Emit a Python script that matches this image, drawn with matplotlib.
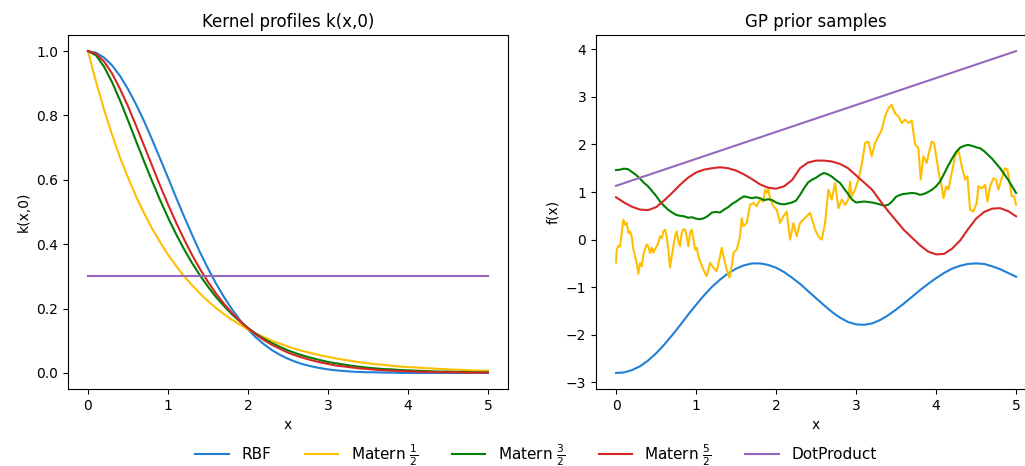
import numpy as np
import matplotlib
matplotlib.use("Agg")
import matplotlib.pyplot as plt

# kernel profiles k(x, 0) sampled on x = 0, 0.1, ..., 5
kernel_x = np.linspace(0, 5, 51)
rbf_k = [1.000, 0.995, 0.980, 0.956, 0.923, 0.882, 0.835, 0.783, 0.726, 0.667,
         0.607, 0.546, 0.487, 0.430, 0.375, 0.325, 0.278, 0.236, 0.198, 0.164,
         0.135, 0.110, 0.089, 0.071, 0.056, 0.044, 0.034, 0.026, 0.020, 0.015,
         0.011, 0.008, 0.006, 0.004, 0.003, 0.002, 0.002, 0.001, 0.001, 0.000,
         0.000, 0.000, 0.000, 0.000, 0.000, 0.000, 0.000, 0.000, 0.000, 0.000,
         0.000]
matern12_k = [1.000, 0.905, 0.819, 0.741, 0.670, 0.607, 0.549, 0.497, 0.449, 0.407,
              0.368, 0.333, 0.301, 0.273, 0.247, 0.223, 0.202, 0.183, 0.165, 0.150,
              0.135, 0.122, 0.111, 0.100, 0.091, 0.082, 0.074, 0.067, 0.061, 0.055,
              0.050, 0.045, 0.041, 0.037, 0.033, 0.030, 0.027, 0.025, 0.022, 0.020,
              0.018, 0.017, 0.015, 0.014, 0.012, 0.011, 0.010, 0.009, 0.008, 0.007,
              0.007]
matern32_k = [1.000, 0.987, 0.952, 0.904, 0.847, 0.785, 0.721, 0.658, 0.597, 0.538,
              0.483, 0.432, 0.385, 0.342, 0.303, 0.268, 0.236, 0.208, 0.182, 0.160,
              0.140, 0.122, 0.106, 0.093, 0.081, 0.070, 0.061, 0.053, 0.046, 0.040,
              0.034, 0.030, 0.026, 0.022, 0.019, 0.016, 0.014, 0.012, 0.011, 0.009,
              0.008, 0.007, 0.006, 0.005, 0.004, 0.004, 0.003, 0.003, 0.002, 0.002,
              0.002]
matern52_k = [1.000, 0.992, 0.968, 0.931, 0.883, 0.829, 0.769, 0.707, 0.645, 0.583,
              0.524, 0.468, 0.416, 0.367, 0.323, 0.283, 0.247, 0.215, 0.186, 0.161,
              0.139, 0.119, 0.102, 0.087, 0.075, 0.063, 0.054, 0.046, 0.039, 0.033,
              0.028, 0.023, 0.020, 0.017, 0.014, 0.012, 0.010, 0.008, 0.007, 0.006,
              0.005, 0.004, 0.003, 0.003, 0.002, 0.002, 0.002, 0.001, 0.001, 0.001,
              0.001]
dot_x = [0.0, 5.0]
dot_k = [0.3, 0.3]

# prior samples
sample_x = np.linspace(0, 5, 51)
rbf_f = [-2.80, -2.79, -2.74, -2.66, -2.54, -2.39, -2.21, -2.01, -1.80, -1.58,
         -1.37, -1.17, -0.99, -0.84, -0.71, -0.61, -0.54, -0.50, -0.50, -0.53,
         -0.59, -0.68, -0.80, -0.93, -1.08, -1.23, -1.38, -1.52, -1.64, -1.73,
         -1.78, -1.79, -1.76, -1.69, -1.59, -1.47, -1.34, -1.20, -1.06, -0.93,
         -0.81, -0.70, -0.61, -0.55, -0.51, -0.50, -0.51, -0.56, -0.62, -0.70,
         -0.78]
matern52_f = [0.89, 0.78, 0.69, 0.63, 0.62, 0.68, 0.82, 0.98, 1.15, 1.30,
              1.41, 1.47, 1.50, 1.52, 1.50, 1.45, 1.37, 1.27, 1.16, 1.09,
              1.07, 1.12, 1.25, 1.50, 1.62, 1.66, 1.66, 1.64, 1.59, 1.50,
              1.35, 1.20, 1.05, 0.82, 0.60, 0.40, 0.20, 0.04, -0.12, -0.25,
              -0.31, -0.30, -0.19, -0.02, 0.22, 0.44, 0.58, 0.65, 0.66, 0.60,
              0.49]

green_x = np.linspace(0, 5, 101)
matern32_f = [1.46, 1.47, 1.49, 1.48, 1.42, 1.36, 1.28, 1.19, 1.12, 1.02,
              0.92, 0.80, 0.71, 0.63, 0.57, 0.52, 0.50, 0.49, 0.46, 0.47,
              0.44, 0.43, 0.45, 0.50, 0.57, 0.58, 0.57, 0.63, 0.68, 0.75,
              0.80, 0.86, 0.91, 0.89, 0.87, 0.89, 0.87, 0.83, 0.85, 0.83,
              0.78, 0.75, 0.74, 0.76, 0.78, 0.82, 0.94, 1.08, 1.20, 1.26,
              1.30, 1.36, 1.40, 1.37, 1.32, 1.25, 1.19, 1.07, 0.96, 0.84,
              0.78, 0.79, 0.80, 0.79, 0.78, 0.76, 0.74, 0.71, 0.73, 0.80,
              0.90, 0.94, 0.96, 0.97, 0.98, 0.97, 0.94, 0.96, 1.00, 1.05,
              1.12, 1.22, 1.38, 1.55, 1.70, 1.84, 1.93, 1.97, 1.99, 1.97,
              1.94, 1.92, 1.86, 1.78, 1.70, 1.60, 1.50, 1.38, 1.26, 1.12,
              0.98]

matern12_x = [0.000, 0.008, 0.029, 0.050, 0.071, 0.092, 0.113, 0.133, 0.154, 0.175,
              0.196, 0.217, 0.238, 0.258, 0.279, 0.300, 0.321, 0.342, 0.363, 0.383,
              0.404, 0.425, 0.446, 0.467, 0.488, 0.508, 0.529, 0.550, 0.571, 0.592,
              0.613, 0.633, 0.654, 0.675, 0.696, 0.717, 0.738, 0.758, 0.779, 0.800,
              0.821, 0.842, 0.863, 0.883, 0.904, 0.925, 0.946, 0.967, 0.988, 1.008,
              1.029, 1.050, 1.092, 1.133, 1.175, 1.217, 1.258, 1.300, 1.321, 1.342,
              1.383, 1.417, 1.446, 1.467, 1.508, 1.550, 1.571, 1.592, 1.633, 1.675,
              1.717, 1.758, 1.800, 1.842, 1.863, 1.883, 1.904, 1.925, 1.967, 2.008,
              2.050, 2.092, 2.133, 2.175, 2.217, 2.258, 2.300, 2.342, 2.383, 2.425,
              2.446, 2.488, 2.529, 2.571, 2.613, 2.654, 2.696, 2.738, 2.779, 2.821,
              2.863, 2.904, 2.925, 2.946, 2.988, 3.029, 3.071, 3.113, 3.154, 3.196,
              3.238, 3.279, 3.321, 3.363, 3.404, 3.446, 3.488, 3.529, 3.571, 3.613,
              3.654, 3.696, 3.738, 3.779, 3.808, 3.842, 3.883, 3.904, 3.946, 3.975,
              4.008, 4.042, 4.071, 4.092, 4.125, 4.154, 4.196, 4.238, 4.279, 4.321,
              4.363, 4.392, 4.425, 4.467, 4.508, 4.529, 4.571, 4.613, 4.642, 4.675,
              4.717, 4.750, 4.779, 4.821, 4.863, 4.892, 4.925, 4.946, 4.975, 5.000]
matern12_f = [-0.48, -0.21, -0.13, -0.15, 0.14, 0.42, 0.31, 0.35, 0.14, 0.17,
              0.07, -0.21, -0.35, -0.49, -0.72, -0.49, -0.56, -0.31, -0.21, -0.10,
              -0.14, -0.28, -0.17, -0.27, -0.20, -0.14, -0.07, 0.07, 0.03, 0.17,
              0.21, 0.07, -0.21, -0.59, -0.35, -0.14, 0.07, 0.17, -0.03, -0.14,
              0.14, 0.22, 0.21, 0.07, -0.14, 0.14, 0.21, 0.00, -0.21, -0.17,
              -0.35, -0.45, -0.63, -0.77, -0.49, -0.59, -0.66, -0.35, -0.17, -0.35,
              -0.63, -0.80, -0.56, -0.28, -0.21, 0.07, 0.45, 0.28, 0.35, 0.73,
              0.77, 0.70, 0.84, 0.80, 1.05, 0.98, 1.05, 0.87, 0.70, 0.63,
              0.35, 0.49, 0.59, 0.00, 0.35, 0.07, 0.35, 0.42, 0.49, 0.56,
              0.45, 0.21, 0.07, 0.00, 0.35, 1.05, 0.84, 1.19, 0.66, 0.84,
              0.73, 0.84, 1.22, 0.91, 1.05, 1.26, 1.57, 2.03, 2.06, 1.75,
              2.03, 2.17, 2.31, 2.59, 2.76, 2.83, 2.65, 2.59, 2.45, 2.52,
              2.45, 2.50, 2.00, 1.92, 1.26, 1.75, 1.61, 1.78, 2.06, 2.03,
              1.68, 1.33, 1.12, 0.87, 1.12, 1.05, 1.40, 1.75, 1.89, 1.54,
              1.26, 1.33, 0.63, 0.59, 0.77, 1.12, 1.08, 1.15, 0.80, 1.12,
              1.29, 1.26, 1.05, 1.29, 1.50, 1.47, 1.12, 0.91, 0.91, 0.73]

dot_f = [1.13, 3.96]

colors = {
    "RBF": "#1f80d6",
    "m12": "#ffbf00",
    "m32": "#008000",
    "m52": "#d62728",
    "dot": "#9467bd",
}
labels = ["RBF", r"Matern $\frac{1}{2}$", r"Matern $\frac{3}{2}$",
          r"Matern $\frac{5}{2}$", "DotProduct"]

fig = plt.figure(figsize=(10.25, 4.66), dpi=100)
ax1 = fig.add_axes([0.0663, 0.1652, 0.4293, 0.7597])
# the right panel runs past the edge of the canvas
ax2 = fig.add_axes([0.5815, 0.1652, 0.4293, 0.7597])
ax2.spines["right"].set_visible(False)

# left: profiles
ax1.plot(kernel_x, rbf_k, color=colors["RBF"], lw=1.5)
ax1.plot(kernel_x, matern12_k, color=colors["m12"], lw=1.5)
ax1.plot(kernel_x, matern32_k, color=colors["m32"], lw=1.5)
ax1.plot(kernel_x, matern52_k, color=colors["m52"], lw=1.5)
ax1.plot(dot_x, dot_k, color=colors["dot"], lw=1.5)
ax1.set_title("Kernel profiles k(x,0)")
ax1.set_xlabel("x")
ax1.set_ylabel("k(x,0)")

# right: samples
h1, = ax2.plot(sample_x, rbf_f, color=colors["RBF"], lw=1.5)
h2, = ax2.plot(matern12_x, matern12_f, color=colors["m12"], lw=1.5)
h3, = ax2.plot(green_x, matern32_f, color=colors["m32"], lw=1.5)
h4, = ax2.plot(sample_x, matern52_f, color=colors["m52"], lw=1.5)
h5, = ax2.plot(dot_x, dot_f, color=colors["dot"], lw=1.5)
ax2.set_title("GP prior samples")
ax2.set_xlabel("x")
ax2.set_ylabel("f(x)")

fig.legend([h1, h2, h3, h4, h5], labels, loc="center", ncol=5, frameon=False,
           bbox_to_anchor=(0.523, 0.024), fontsize=11, columnspacing=2.2,
           handlelength=2.2)

fig.savefig("out.png", dpi=100)
